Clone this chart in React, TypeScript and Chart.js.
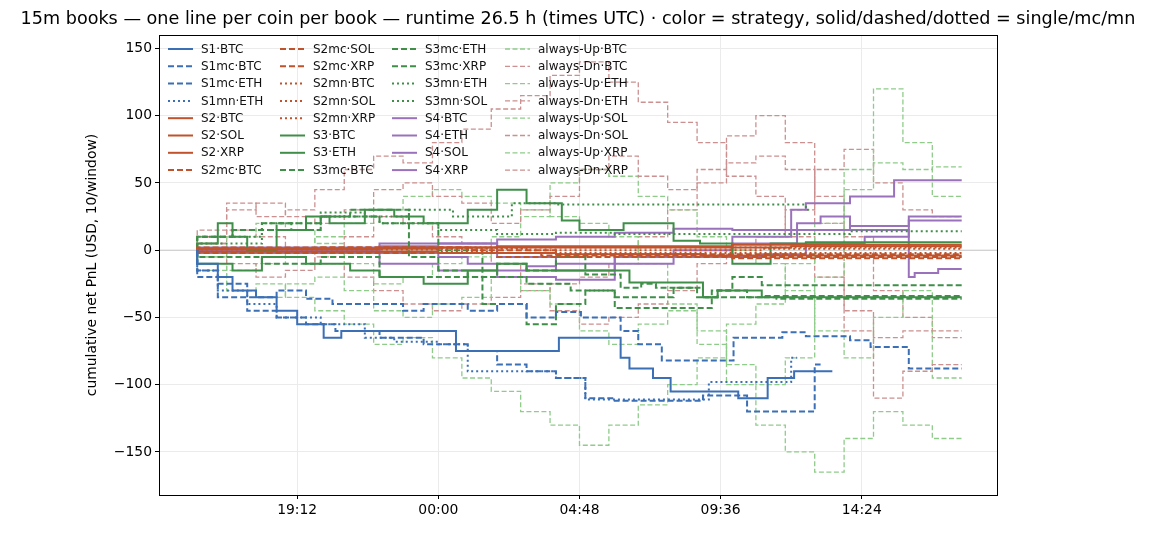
import React, { useEffect, useRef } from "react";
import { Chart, registerables } from "chart.js";
Chart.register(...registerables);

type P = [number, number];

const TITLE = "15m books — one line per coin per book — runtime 26.5 h (times UTC) · color = strategy, solid/dashed/dotted = single/mc/mn";
const Y_LABEL = "cumulative net PnL (USD, 10/window)";
const X_TICKS = [19.2, 24, 28.8, 33.6, 38.4];
const X_TICK_LABELS = ["19:12", "00:00", "04:48", "09:36", "14:24"];
const Y_TICKS = [-150, -100, -50, 0, 50, 100, 150];

const S1_BTC: P[] = [[15.8,0],[16.5,-10],[17,-20],[17.8,-30],[18.5,-35],[19.2,-45],[20.1,-55],[20.7,-65],[24.6,-60],[28.1,-75],[30.2,-65],[30.5,-80],[31.3,-88],[31.9,-95],[34.2,-105],[35.2,-110],[36.1,-95],[37.4,-90]];
const S1mc_BTC: P[] = [[15.8,0],[16.5,-15],[17.5,-25],[18.5,-35],[19.5,-30],[20.4,-36],[22.8,-40],[23.5,-45],[25,-40],[26,-45],[27,-40],[28,-50],[28.85,-46],[30.2,-50],[30.8,-60],[31.6,-70],[34.04,-82],[35.7,-65],[36.5,-61],[38,-64],[38.7,-67],[40,-72],[41.25,-88],[41.8,-88]];
const S1mc_ETH: P[] = [[15.8,0],[16.5,-20],[17.5,-35],[18.5,-45],[19.5,-50],[20.5,-55],[22,-60],[23.5,-65],[25,-70],[26,-75],[27,-85],[28,-90],[29,-95],[30,-110],[31,-112],[33,-112],[34.5,-108],[35.2,-120],[36.8,-120],[37,-85]];
const S1mn_ETH: P[] = [[15.8,0],[16.5,-15],[17.5,-30],[18.5,-40],[20,-50],[21.5,-55],[22.5,-65],[24,-68],[25,-70],[26.5,-90],[28,-90],[29,-95],[30.3,-111],[33.2,-111],[34.1,-98],[36,-98],[36.2,-80]];
const S2_BTC: P[] = [[15.8,0],[22,1],[26,2],[30,3],[34,3],[38,4],[41.8,4]];
const S2_SOL: P[] = [[15.8,0],[24,1],[30,2],[36,2],[41.8,3]];
const S2_XRP: P[] = [[15.8,0],[24,-1],[28,-2],[33,-3],[41.8,-4]];
const S2mc_BTC: P[] = [[15.8,0],[20,1],[25,2],[27.5,-2],[34,-4],[41.8,-5]];
const S2mc_SOL: P[] = [[15.8,0],[25,2],[28,0],[35,-3],[41.8,-3]];
const S2mc_XRP: P[] = [[15.8,0],[26,-2],[34,-5],[41.8,-6]];
const S2mn_BTC: P[] = [[15.8,0],[25,1],[33,2],[41.8,2]];
const S2mn_SOL: P[] = [[15.8,0],[27,1],[35,0],[41.8,1]];
const S2mn_XRP: P[] = [[15.8,0],[26,-1],[35,-2],[41.8,-2]];
const S3_BTC: P[] = [[15.8,0],[16.5,5],[17,20],[17.5,10],[18.5,0],[19.5,15],[20.3,25],[21.5,20],[22.5,30],[23.5,25],[25,20],[26,30],[27,45],[28.2,35],[28.8,22],[30.3,15],[31,20],[32,20],[32.9,7],[34,5],[35.3,-10],[36.5,5],[41.8,6]];
const S3_ETH: P[] = [[15.8,0],[17,-10],[18,-15],[19.5,-5],[21,-10],[22,-15],[23.5,-20],[25,-25],[26,-15],[27,-10],[28.5,-15],[30.5,-15],[31.3,-24],[33,-24],[33.5,-35],[35,-30],[36,-35],[41.8,-35]];
const S3mc_BTC: P[] = [[15.8,0],[17,10],[18,15],[19,20],[20,15],[21,25],[22,30],[23,30],[24,-5],[25,-15],[26,-20],[27,-10],[28,-15],[29,-5],[30.2,-18],[30.9,-28],[31.4,-25],[32.8,-28],[33.5,-35],[34.5,-30],[35.5,-35],[41.8,-36]];
const S3mc_ETH: P[] = [[15.8,0],[18,-5],[20,-10],[22,-5],[24,-20],[25.5,-20],[27,-40],[28,-55],[29,-40],[30,-30],[31.4,-43],[33.3,-43],[34,-30],[35,-20],[36.5,-26],[41.8,-26]];
const S3mc_XRP: P[] = [[15.8,0],[17,10],[18.5,15],[20,20],[22,25],[24,20],[25.5,0],[27,-20],[28.5,-25],[30,-30],[32,-35],[33,-28],[35,-35],[41.8,-34]];
const S3mn_ETH: P[] = [[15.8,0],[18,10],[20,20],[21.5,28],[23,25],[24.5,30],[26.5,25],[28,35],[29,34],[36.5,34],[36.6,30]];
const S3mn_SOL: P[] = [[15.8,0],[18,5],[20,15],[22,25],[24,20],[26,15],[28,12],[30,13],[35,12],[38,12],[41.8,14]];
const S4_BTC: P[] = [[15.8,0],[22,2],[26,5],[28,8],[30,10],[32,13],[34,16],[36,15],[36.5,30],[38,35],[39.5,40],[41.8,52]];
const S4_ETH: P[] = [[15.8,0],[24,-2],[25,-5],[26,-10],[27,-15],[28,-12],[30,-10],[32,-5],[34,0],[36,10],[38,15],[40,18],[41.8,22]];
const S4_SOL: P[] = [[15.8,0],[22,0],[24,3],[26,5],[28,-5],[30,-15],[32,-10],[34,-5],[36.2,5],[37,20],[38,25],[39,15],[40,15],[40.2,-20],[41,-17],[41.8,-14]];
const S4_XRP: P[] = [[15.8,0],[22,1],[24,-10],[26,-15],[28,-20],[30,-22],[31.3,-3],[33,-3],[35,-5],[36.5,-3],[38.5,5],[40,10],[41.8,25]];

const ALWAYS_HOURS = [15.8,16.8,17.8,18.8,19.8,20.8,21.8,22.8,23.8,24.8,25.8,26.8,27.8,28.8,29.8,30.8,31.8,32.8,33.8,34.8,35.8,36.8,37.8,38.8,39.8,40.8,41.8];
const UP_BTC = [0,-15,-30,-25,-35,-45,-55,-70,-65,-80,-95,-105,-120,-130,-145,-130,-115,-100,-80,-55,-40,-10,20,45,65,60,62];
const DN_BTC = [0,15,35,25,30,45,60,70,65,80,90,105,115,130,140,125,110,95,80,55,40,10,-20,-45,-65,-60,-60];
const UP_ETH = [0,-10,-30,-35,-25,-20,-30,-45,-50,-40,-35,-20,-30,-40,-60,-70,-55,-45,-60,-85,-100,-80,-20,60,120,80,40];
const DN_ETH = [0,10,30,35,25,20,30,45,50,40,35,20,30,40,60,70,55,45,60,85,100,80,20,-60,-110,-90,-85];
const UP_SOL = [0,-5,10,20,15,5,-10,-25,-20,-10,-5,10,25,50,60,55,40,30,10,0,-10,-30,-60,-80,-50,-30,-95];
const DN_SOL = [0,5,-10,-20,-15,-5,10,25,20,10,5,-10,-25,-45,-55,-50,-40,-30,-10,0,10,30,60,75,50,30,25];
const UP_XRP = [0,-5,-15,-10,0,10,20,30,40,45,40,35,30,25,20,10,-10,-40,-70,-100,-130,-150,-165,-140,-120,-130,-140];
const DN_XRP = [0,5,15,10,0,-10,-20,-30,-40,-45,-40,-35,-30,-25,-20,-10,10,30,50,65,70,60,40,10,-30,-50,-65];

const C1 = "#3b6fb6", C2 = "#c0532b", C3 = "#3f8f48", C4 = "#9a72bc", CUP = "#8fcc8a", CDN = "#cc9090";
const DASH = [6, 3], DOT = [2, 3], ADASH = [5, 2.5];

type Ser = { label: string; pts: P[]; color: string; dash: number[]; width: number };
const zip = (v: number[]): P[] => v.map((y, i) => [ALWAYS_HOURS[i], y]);

const SERIES: Ser[] = [
  { label: "S1·BTC", pts: S1_BTC, color: C1, dash: [], width: 2 },
  { label: "S1mc·BTC", pts: S1mc_BTC, color: C1, dash: DASH, width: 2 },
  { label: "S1mc·ETH", pts: S1mc_ETH, color: C1, dash: DASH, width: 2 },
  { label: "S1mn·ETH", pts: S1mn_ETH, color: C1, dash: DOT, width: 2 },
  { label: "S2·BTC", pts: S2_BTC, color: C2, dash: [], width: 2 },
  { label: "S2·SOL", pts: S2_SOL, color: C2, dash: [], width: 2 },
  { label: "S2·XRP", pts: S2_XRP, color: C2, dash: [], width: 2 },
  { label: "S2mc·BTC", pts: S2mc_BTC, color: C2, dash: DASH, width: 2 },
  { label: "S2mc·SOL", pts: S2mc_SOL, color: C2, dash: DASH, width: 2 },
  { label: "S2mc·XRP", pts: S2mc_XRP, color: C2, dash: DASH, width: 2 },
  { label: "S2mn·BTC", pts: S2mn_BTC, color: C2, dash: DOT, width: 2 },
  { label: "S2mn·SOL", pts: S2mn_SOL, color: C2, dash: DOT, width: 2 },
  { label: "S2mn·XRP", pts: S2mn_XRP, color: C2, dash: DOT, width: 2 },
  { label: "S3·BTC", pts: S3_BTC, color: C3, dash: [], width: 2 },
  { label: "S3·ETH", pts: S3_ETH, color: C3, dash: [], width: 2 },
  { label: "S3mc·BTC", pts: S3mc_BTC, color: C3, dash: DASH, width: 2 },
  { label: "S3mc·ETH", pts: S3mc_ETH, color: C3, dash: DASH, width: 2 },
  { label: "S3mc·XRP", pts: S3mc_XRP, color: C3, dash: DASH, width: 2 },
  { label: "S3mn·ETH", pts: S3mn_ETH, color: C3, dash: DOT, width: 2 },
  { label: "S3mn·SOL", pts: S3mn_SOL, color: C3, dash: DOT, width: 2 },
  { label: "S4·BTC", pts: S4_BTC, color: C4, dash: [], width: 2 },
  { label: "S4·ETH", pts: S4_ETH, color: C4, dash: [], width: 2 },
  { label: "S4·SOL", pts: S4_SOL, color: C4, dash: [], width: 2 },
  { label: "S4·XRP", pts: S4_XRP, color: C4, dash: [], width: 2 },
  { label: "always-Up·BTC", pts: zip(UP_BTC), color: CUP, dash: ADASH, width: 1.3 },
  { label: "always-Dn·BTC", pts: zip(DN_BTC), color: CDN, dash: ADASH, width: 1.3 },
  { label: "always-Up·ETH", pts: zip(UP_ETH), color: CUP, dash: ADASH, width: 1.3 },
  { label: "always-Dn·ETH", pts: zip(DN_ETH), color: CDN, dash: ADASH, width: 1.3 },
  { label: "always-Up·SOL", pts: zip(UP_SOL), color: CUP, dash: ADASH, width: 1.3 },
  { label: "always-Dn·SOL", pts: zip(DN_SOL), color: CDN, dash: ADASH, width: 1.3 },
  { label: "always-Up·XRP", pts: zip(UP_XRP), color: CUP, dash: ADASH, width: 1.3 },
  { label: "always-Dn·XRP", pts: zip(DN_XRP), color: CDN, dash: ADASH, width: 1.3 },
];

const FONT = "'DejaVu Sans', sans-serif";

const decor = {
  id: "decor",
  beforeDatasetsDraw(chart: any) {
    const { ctx, chartArea: a, scales } = chart;
    const y0 = scales.y.getPixelForValue(0);
    ctx.save();
    ctx.strokeStyle = "#c8c8c8";
    ctx.lineWidth = 1;
    ctx.beginPath(); ctx.moveTo(a.left, y0); ctx.lineTo(a.right, y0); ctx.stroke();
    ctx.restore();
  },
  afterDraw(chart: any) {
    const { ctx, chartArea: a } = chart;
    ctx.save();
    ctx.strokeStyle = "#000"; ctx.lineWidth = 1;
    ctx.strokeRect(a.left + 0.5, a.top + 0.5, a.right - a.left, a.bottom - a.top);
    ctx.fillStyle = "#000"; ctx.font = `17.6px ${FONT}`; ctx.textAlign = "center"; ctx.textBaseline = "middle";
    ctx.fillText(TITLE, 578, 19);
    ctx.save();
    ctx.translate(92, (a.top + a.bottom) / 2);
    ctx.rotate(-Math.PI / 2);
    ctx.font = `13.9px ${FONT}`;
    ctx.fillText(Y_LABEL, 0, 0);
    ctx.restore();
    const colX = [168, 280, 392, 505];
    ctx.font = `12px ${FONT}`; ctx.textAlign = "left";
    SERIES.forEach((s, i) => {
      const c = Math.floor(i / 8), r = i % 8;
      const x = colX[c], y = a.top + 14 + r * 17.3;
      ctx.strokeStyle = s.color; ctx.lineWidth = s.width; ctx.setLineDash(s.dash);
      ctx.beginPath(); ctx.moveTo(x, y); ctx.lineTo(x + 25, y); ctx.stroke();
      ctx.setLineDash([]);
      ctx.fillStyle = "#111";
      ctx.fillText(s.label, x + 33, y + 0.5);
    });
    ctx.restore();
  },
};

export default function App() {
  const ref = useRef<HTMLCanvasElement>(null);
  useEffect(() => {
    document.body.style.margin = "0";
    const chart = new Chart(ref.current!, {
      type: "line",
      data: {
        datasets: SERIES.map((s) => ({
          label: s.label,
          data: s.pts.map(([x, y]) => ({ x, y })),
          borderColor: s.color,
          borderDash: s.dash,
          borderWidth: s.width,
          stepped: "after" as any,
          pointRadius: 0,
          fill: false,
        })),
      },
      options: {
        animation: false,
        responsive: false,
        layout: { padding: { top: 35, right: 158, left: 0, bottom: 0 } },
        plugins: { legend: { display: false }, title: { display: false }, tooltip: { enabled: false } },
        scales: {
          x: {
            type: "linear", min: 14.5, max: 43.0,
            afterBuildTicks: (s: any) => { s.ticks = X_TICKS.map((v) => ({ value: v })); },
            afterFit: (s: any) => { s.height = 39; },
            ticks: { callback: (v: any) => X_TICK_LABELS[X_TICKS.indexOf(v)] ?? "", color: "#000", font: { family: FONT, size: 13.9 }, maxRotation: 0 },
            grid: { color: "#ebebeb", drawTicks: true, tickColor: "#000", tickLength: 4 },
            border: { display: false },
          },
          y: {
            min: -182, max: 160,
            afterBuildTicks: (s: any) => { s.ticks = Y_TICKS.map((v) => ({ value: v })); },
            afterFit: (s: any) => { s.width = 159; },
            ticks: { color: "#000", font: { family: FONT, size: 13.9 }, callback: (v: any) => String(v).replace("-", "\u2212") },
            grid: { color: "#ebebeb", tickColor: "#000", tickLength: 4 },
            border: { display: false },
          },
        },
      },
      plugins: [decor],
    });
    return () => chart.destroy();
  }, []);
  return <canvas ref={ref} width={1155} height={534} style={{ display: "block" }} />;
}
